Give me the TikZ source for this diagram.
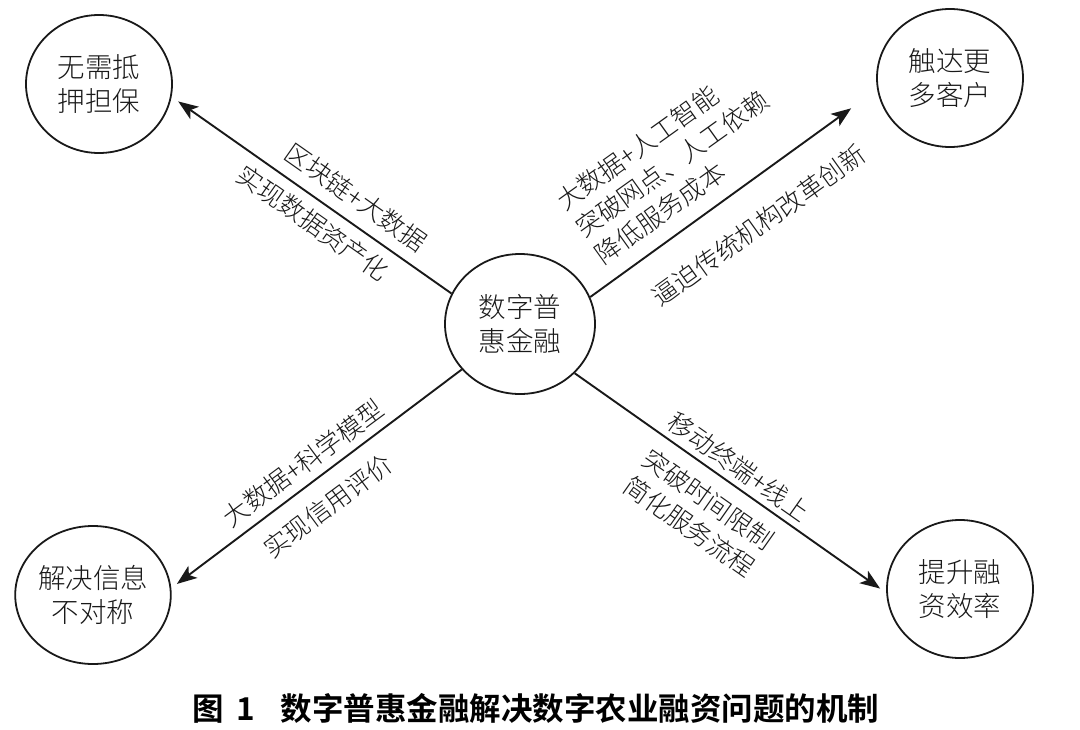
\documentclass[tikz,border=0pt]{standalone}
\usepackage{fontspec}
\newfontfamily\cjklight{Noto Sans CJK SC Light}
\newfontfamily\cjkbold{Noto Sans CJK SC Bold}
\usetikzlibrary{arrows.meta,shapes.geometric}

\begin{document}
\begin{tikzpicture}[
	x=1pt, y=-1pt,
	topic/.style={
		ellipse,
		draw=black!90,
		line width=1.8pt,
		inner sep=0pt,
		minimum width=146pt,
		minimum height=138pt,
		align=center,
		text=black!90,
		font=\cjklight\fontsize{27.5}{34}\selectfont
	},
	link/.style={-{Stealth[length=20pt,width=15pt,inset=5pt]}, line width=1.9pt, black!90},
	note/.style={
		text=black!90,
		inner sep=0pt,
		align=left,
		font=\cjklight\fontsize{25.5}{33}\selectfont
	},
]

\useasboundingbox (0,0) rectangle (1080,729);

% circles
\node[topic, minimum width=150pt, minimum height=140pt] (dif) at (520,324) {数字普\\惠金融};
\node[topic] (nocol) at (99,84) {无需抵\\押担保};
\node[topic] (reach) at (950,78) {触达更\\多客户};
\node[topic, minimum width=150pt] (info) at (93,595) {解决信息\\不对称};
\node[topic] (eff) at (960,589) {提升融\\资效率};

% arrows out of the centre
\draw[link, shorten >=8pt] (dif.156) -- (nocol.-10.5);
\draw[link, shorten >=32pt] (dif.21) -- (reach.189);
\draw[link, shorten >=7pt] (dif.218) -- (info.5);
\draw[link, shorten >=7.5pt] (dif.-42) -- (eff.183);

% labels along the arrows
\node[note, rotate=-35.1] (tagNW1) at (356,197) {区块链+大数据};
\node[note, rotate=-35.1] (tagNW2) at (313,223) {实现数据资产化};
\node[note, rotate=35.6] (tagNE1) at (672,164) {大数据+人工智能\\突破网点、人工依赖\\降低服务成本};
\node[note, rotate=35.6] (tagNE2) at (759,225) {逼迫传统机构改革创新};
\node[note, rotate=36.5] (tagSW1) at (303,463) {大数据+科学模型};
\node[note, rotate=36.5] (tagSW2) at (328,506) {实现信用评价};
\node[note, rotate=-35.1] (tagSE1) at (739,467) {移动终端+线上};
\node[note, rotate=-35.1] (tagSE2) at (699,513) {突破时间限制\\简化服务流程};

% caption
\node[font=\cjkbold\fontsize{31.5}{36}\selectfont, inner sep=0pt] (cap) at (536,708)
	{图\hspace{0.4em}1\hspace{0.8em}数字普惠金融解决数字农业融资问题的机制};

\end{tikzpicture}
\end{document}
